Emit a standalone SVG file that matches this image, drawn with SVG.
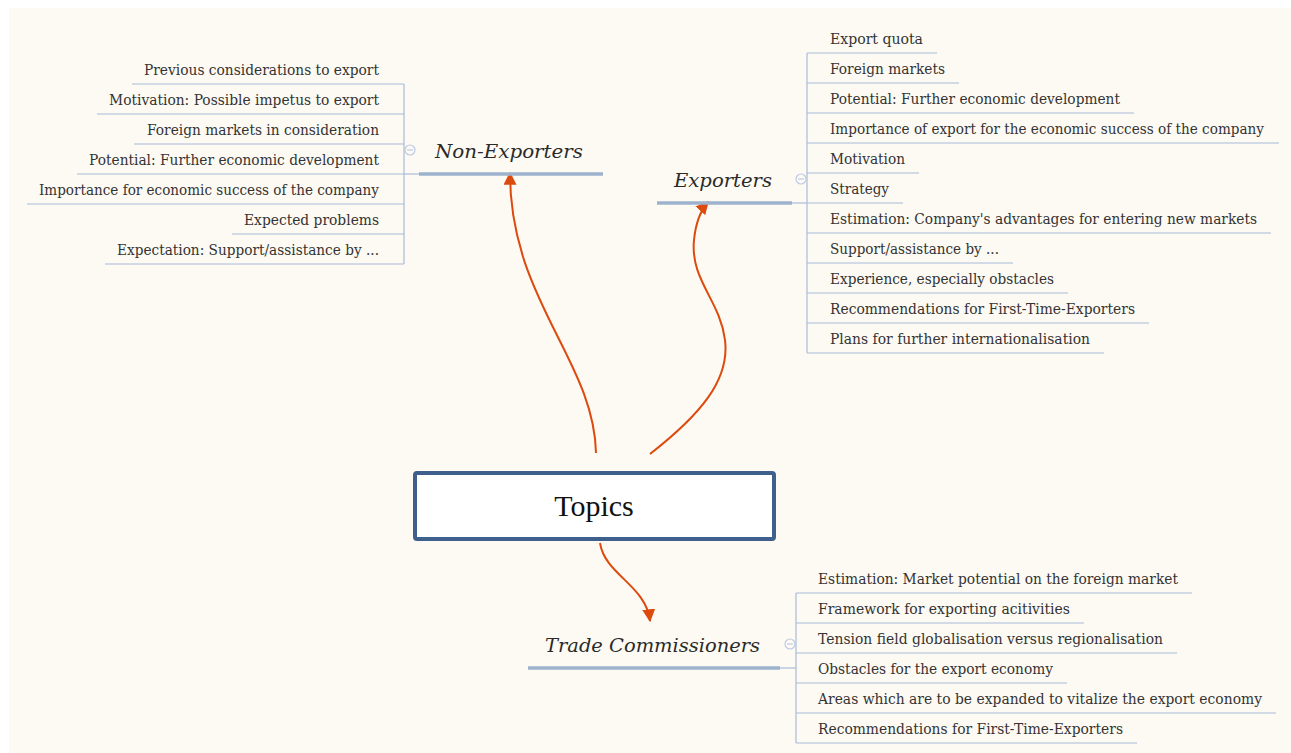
<svg xmlns="http://www.w3.org/2000/svg" width="1291" height="753" viewBox="0 0 1291 753">
<defs>
<marker id="ah" viewBox="0 0 10 10" refX="9" refY="5" markerWidth="6.5" markerHeight="6.5" markerUnits="strokeWidth" orient="auto">
<path d="M0,0 L10,5 L0,10 z" fill="#DD4A0E"/>
</marker>
<style>
.leaf{font-family:"DejaVu Serif","Liberation Serif",serif;font-size:14px;fill:#333333}
.r{text-anchor:start}
.l{text-anchor:end}
.ul{stroke:#A8BBD8;stroke-width:1.2;fill:none}
.main{stroke:#9DB2CD;stroke-width:3.5;fill:none}
.topic{font-family:"DejaVu Serif","Liberation Serif",serif;font-style:italic;font-size:19px;fill:#2a2a2a}
.col{fill:#FDFAF3;stroke:#BCCAE6;stroke-width:1.2}
.colm{stroke:#BCCAE6;stroke-width:1.2}
.arr{stroke:#DD4A0E;stroke-width:2;fill:none;marker-end:url(#ah)}
</style>
</defs>
<rect x="0" y="0" width="1291" height="753" fill="#ffffff"/>
<rect x="9" y="8" width="1282" height="745" fill="#FDFAF3"/>

<g id="connectors">
<path class="arr" d="M596,453 C594,360 510,300 510,173"/>
<path class="arr" d="M650,454 C700,415 730,380 725,340 C720,300 690,280 694,240 C696,220 701,210 708,202"/>
<path class="arr" d="M600,543 C605,575 646,585 650,621"/>
</g>

<g id="topics">
<rect x="415" y="473" width="359" height="66" rx="2" fill="#ffffff" stroke="#3F5F8C" stroke-width="4"/>
<text x="594" y="516" text-anchor="middle" font-family="'Liberation Serif',serif" font-size="30" fill="#111">Topics</text>
</g>

<g id="non-exporters">
<line class="main" x1="419" y1="174" x2="603" y2="174"/>
<text class="topic" x="435" y="158" textLength="148" lengthAdjust="spacingAndGlyphs">Non-Exporters</text>
<line class="ul" x1="404" y1="84" x2="404" y2="264"/>
<line class="ul" x1="404" y1="174" x2="419" y2="174"/>
<circle class="col" cx="410" cy="150" r="5"/>
<line class="colm" x1="407" y1="150" x2="413" y2="150"/>
<line class="ul" x1="132" y1="84" x2="404" y2="84"/>
<line class="ul" x1="97" y1="114" x2="404" y2="114"/>
<line class="ul" x1="134" y1="144" x2="404" y2="144"/>
<line class="ul" x1="77" y1="174" x2="404" y2="174"/>
<line class="ul" x1="27" y1="204" x2="404" y2="204"/>
<line class="ul" x1="232" y1="234" x2="404" y2="234"/>
<line class="ul" x1="105" y1="264" x2="404" y2="264"/>
<text class="leaf l" x="379" y="75" textLength="235" lengthAdjust="spacingAndGlyphs">Previous considerations to export</text>
<text class="leaf l" x="379" y="105" textLength="270" lengthAdjust="spacingAndGlyphs">Motivation: Possible impetus to export</text>
<text class="leaf l" x="379" y="135" textLength="232" lengthAdjust="spacingAndGlyphs">Foreign markets in consideration</text>
<text class="leaf l" x="379" y="165" textLength="290" lengthAdjust="spacingAndGlyphs">Potential: Further economic development</text>
<text class="leaf l" x="379" y="195" textLength="340" lengthAdjust="spacingAndGlyphs">Importance for economic success of the company</text>
<text class="leaf l" x="379" y="225" textLength="135" lengthAdjust="spacingAndGlyphs">Expected problems</text>
<text class="leaf l" x="379" y="255" textLength="262" lengthAdjust="spacingAndGlyphs">Expectation: Support/assistance by ...</text>
</g>

<g id="exporters">
<line class="main" x1="657" y1="203" x2="792" y2="203"/>
<text class="topic" x="674" y="187" textLength="98" lengthAdjust="spacingAndGlyphs">Exporters</text>
<line class="ul" x1="807" y1="53" x2="807" y2="353"/>
<line class="ul" x1="792" y1="203" x2="807" y2="203"/>
<circle class="col" cx="801" cy="179" r="5"/>
<line class="colm" x1="798" y1="179" x2="804" y2="179"/>
<line class="ul" x1="807" y1="53" x2="937" y2="53"/>
<line class="ul" x1="807" y1="83" x2="959" y2="83"/>
<line class="ul" x1="807" y1="113" x2="1134" y2="113"/>
<line class="ul" x1="807" y1="143" x2="1279" y2="143"/>
<line class="ul" x1="807" y1="173" x2="919" y2="173"/>
<line class="ul" x1="807" y1="203" x2="903" y2="203"/>
<line class="ul" x1="807" y1="233" x2="1271" y2="233"/>
<line class="ul" x1="807" y1="263" x2="1013" y2="263"/>
<line class="ul" x1="807" y1="293" x2="1068" y2="293"/>
<line class="ul" x1="807" y1="323" x2="1149" y2="323"/>
<line class="ul" x1="807" y1="353" x2="1104" y2="353"/>
<text class="leaf r" x="830" y="44" textLength="93" lengthAdjust="spacingAndGlyphs">Export quota</text>
<text class="leaf r" x="830" y="74" textLength="115" lengthAdjust="spacingAndGlyphs">Foreign markets</text>
<text class="leaf r" x="830" y="104" textLength="290" lengthAdjust="spacingAndGlyphs">Potential: Further economic development</text>
<text class="leaf r" x="830" y="134" textLength="434" lengthAdjust="spacingAndGlyphs">Importance of export for the economic success of the company</text>
<text class="leaf r" x="830" y="164" textLength="75" lengthAdjust="spacingAndGlyphs">Motivation</text>
<text class="leaf r" x="830" y="194" textLength="59" lengthAdjust="spacingAndGlyphs">Strategy</text>
<text class="leaf r" x="830" y="224" textLength="427" lengthAdjust="spacingAndGlyphs">Estimation: Company's advantages for entering new markets</text>
<text class="leaf r" x="830" y="254" textLength="169" lengthAdjust="spacingAndGlyphs">Support/assistance by ...</text>
<text class="leaf r" x="830" y="284" textLength="224" lengthAdjust="spacingAndGlyphs">Experience, especially obstacles</text>
<text class="leaf r" x="830" y="314" textLength="305" lengthAdjust="spacingAndGlyphs">Recommendations for First-Time-Exporters</text>
<text class="leaf r" x="830" y="344" textLength="260" lengthAdjust="spacingAndGlyphs">Plans for further internationalisation</text>
</g>

<g id="trade-commissioners">
<line class="main" x1="528" y1="668" x2="780" y2="668"/>
<text class="topic" x="545" y="652" textLength="215" lengthAdjust="spacingAndGlyphs">Trade Commissioners</text>
<line class="ul" x1="796" y1="593" x2="796" y2="743"/>
<line class="ul" x1="780" y1="668" x2="796" y2="668"/>
<circle class="col" cx="790" cy="644" r="5"/>
<line class="colm" x1="787" y1="644" x2="793" y2="644"/>
<line class="ul" x1="796" y1="593" x2="1192" y2="593"/>
<line class="ul" x1="796" y1="623" x2="1084" y2="623"/>
<line class="ul" x1="796" y1="653" x2="1177" y2="653"/>
<line class="ul" x1="796" y1="683" x2="1067" y2="683"/>
<line class="ul" x1="796" y1="713" x2="1276" y2="713"/>
<line class="ul" x1="796" y1="743" x2="1137" y2="743"/>
<text class="leaf r" x="818" y="584" textLength="360" lengthAdjust="spacingAndGlyphs">Estimation: Market potential on the foreign market</text>
<text class="leaf r" x="818" y="614" textLength="252" lengthAdjust="spacingAndGlyphs">Framework for exporting acitivities</text>
<text class="leaf r" x="818" y="644" textLength="345" lengthAdjust="spacingAndGlyphs">Tension field globalisation versus regionalisation</text>
<text class="leaf r" x="818" y="674" textLength="235" lengthAdjust="spacingAndGlyphs">Obstacles for the export economy</text>
<text class="leaf r" x="818" y="704" textLength="444" lengthAdjust="spacingAndGlyphs">Areas which are to be expanded to vitalize the export economy</text>
<text class="leaf r" x="818" y="734" textLength="305" lengthAdjust="spacingAndGlyphs">Recommendations for First-Time-Exporters</text>
</g>
</svg>
